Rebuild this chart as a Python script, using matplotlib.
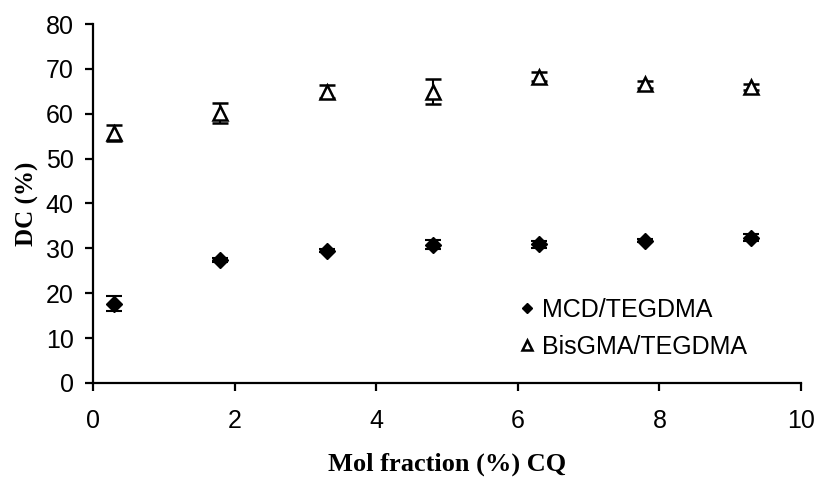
import matplotlib
matplotlib.use("Agg")
import matplotlib.pyplot as plt

# data
mol_frac = [0.3, 1.8, 3.3, 4.8, 6.3, 7.8, 9.3]
dc_mcd = [17.7, 27.4, 29.5, 30.8, 30.9, 31.7, 32.4]
err_mcd = [1.7, 0.4, 0.4, 1.0, 0.8, 0.3, 0.8]
dc_bis = [55.8, 60.1, 64.9, 64.9, 68.2, 66.6, 66.0]
err_bis = [1.8, 2.2, 1.4, 2.8, 1.0, 0.8, 0.7]

fig = plt.figure(figsize=(8.17, 4.8), dpi=100)
ax = fig.add_axes([0.1138, 0.2021, 0.8666, 0.7479])

ax.errorbar(mol_frac, dc_mcd, yerr=err_mcd, fmt='D', color='black',
            markersize=8, capsize=6, elinewidth=1.5, capthick=1.5,
            label='MCD/TEGDMA', zorder=3)
ax.errorbar(mol_frac, dc_bis, yerr=err_bis, fmt='^', color='black',
            markerfacecolor='white', markeredgewidth=1.8, markersize=10,
            capsize=6, elinewidth=1.5, capthick=1.5,
            label='BisGMA/TEGDMA', zorder=3)

ax.set_xlim(0, 10)
ax.set_ylim(0, 80)
ax.set_xticks(range(0, 11, 2))
ax.set_yticks(range(0, 81, 10))

for s in ['top', 'right']:
    ax.spines[s].set_visible(False)
for s in ['left', 'bottom']:
    ax.spines[s].set_linewidth(1.6)
ax.tick_params(direction='out', length=6, width=1.6, labelsize=18, pad=8)
for lab in ax.get_xticklabels() + ax.get_yticklabels():
    lab.set_family('Liberation Sans')
ax.tick_params(axis='x', pad=13)

ax.set_xlabel('Mol fraction (%) CQ', family='Liberation Serif',
              fontweight='bold', fontsize=19, labelpad=14)
ax.set_ylabel('DC (%)', family='Liberation Serif',
              fontweight='bold', fontsize=18, labelpad=5)

handles, labels = ax.get_legend_handles_labels()
handles = [h[0] for h in handles]
leg = ax.legend(handles, labels, loc='lower left', bbox_to_anchor=(0.57, 0.005),
                frameon=False, prop={'family': 'Liberation Sans', 'size': 18},
                handlelength=0.6, handletextpad=0.3, markerscale=0.7,
                labelspacing=0.5)

fig.savefig('out.png', dpi=100)
